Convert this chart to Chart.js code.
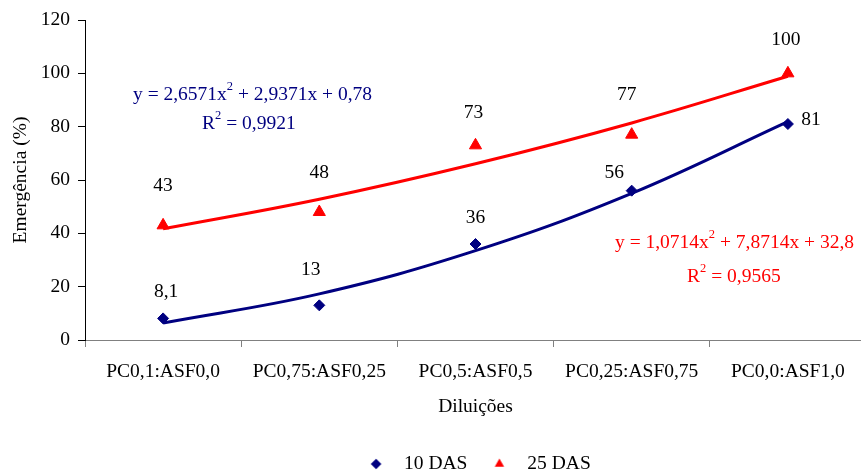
<!DOCTYPE html>
<html>
<head>
<meta charset="utf-8">
<script src="https://cdn.jsdelivr.net/npm/chart.js@4/dist/chart.umd.min.js"></script>
<style>
html,body{margin:0;padding:0;overflow:hidden;background:#fff;width:861px;height:472px}
#wrap{width:874px;height:490px}
</style>
</head>
<body>
<div id="wrap"><canvas id="c" width="874" height="490"></canvas></div>
<script>
// ---- data ----
const categories = ['PC0,1:ASF0,0', 'PC0,75:ASF0,25', 'PC0,5:ASF0,5', 'PC0,25:ASF0,75', 'PC0,0:ASF1,0'];
const seriesNames = ['10 DAS', '25 DAS'];
const das10 = [8.1, 13, 36, 56, 81];
const das25 = [43, 48, 73, 77, 100];
// polynomial trend lines at each category
const trend10 = [6.4, 17.3, 33.5, 55.0, 81.9];
const trend25 = [41.7, 52.8, 66.1, 81.4, 98.9];
const yMin = 0, yMax = 120, yStep = 20;
const xTitle = 'Diluições';
const yTitle = 'Emergência (%)';
const eq10 = [['y = 2,6571x'], ['2', true], [' + 2,9371x + 0,78']];
const r10 = [['R'], ['2', true], [' = 0,9921']];
const eq25 = [['y = 1,0714x'], ['2', true], [' + 7,8714x + 32,8']];
const r25 = [['R'], ['2', true], [' = 0,9565']];

// ---- styles ----
const BLUE = '#000080', RED = '#FF0000';
const FONT = '"Liberation Serif", "Times New Roman", serif';
const FS = 19.5;
const font = {family: FONT, size: FS};
const labelOffsets10 = [[3, -27], [-8.5, -35], [0, -26], [-17.5, -18], [23, -4]];
const labelOffsets25 = [[0, -39], [0, -39], [-2, -32], [-5, -40], [-2, -33]];
const eqPos = [
  {parts: eq10, x: 133, y: 95, color: BLUE},
  {parts: r10, x: 202, y: 124, color: BLUE},
  {parts: eq25, x: 615, y: 243, color: RED},
  {parts: r25, x: 687, y: 277, color: RED}
];

function fmt(v) { return String(v).replace('.', ','); }

function makeMarker(kind, color) {
  const c = document.createElement('canvas');
  c.width = 24; c.height = 24;
  const g = c.getContext('2d');
  const cx = 12 - 1.2, cy = 12;
  g.fillStyle = color;
  g.beginPath();
  if (kind === 'diamond') {
    const r = 5.3;
    g.moveTo(cx, cy - r); g.lineTo(cx + r, cy); g.lineTo(cx, cy + r); g.lineTo(cx - r, cy);
  } else {
    const r = 5.4;
    g.moveTo(cx, cy - r); g.lineTo(cx + r * 0.866, cy + r / 2); g.lineTo(cx - r * 0.866, cy + r / 2);
  }
  g.closePath(); g.fill();
  return c;
}
const legendMarkers = [makeMarker('diamond', BLUE), makeMarker('triangle', RED)];

const labelPlugin = {
  id: 'labelsAndEquations',
  afterDatasetsDraw(chart) {
    const ctx = chart.ctx;
    ctx.save();
    ctx.font = FS + 'px ' + FONT;
    ctx.fillStyle = '#000';
    ctx.textAlign = 'center';
    ctx.textBaseline = 'middle';
    [[0, das10, labelOffsets10], [1, das25, labelOffsets25]].forEach(([di, vals, offs]) => {
      const meta = chart.getDatasetMeta(di);
      const ys = chart.scales.y;
      meta.data.forEach((pt, i) => {
        const y = ys.getPixelForValue(vals[i]);
        ctx.fillText(fmt(vals[i]), pt.x + offs[i][0], y + offs[i][1]);
      });
    });
    ctx.textAlign = 'left';
    eqPos.forEach(e => {
      let x = e.x;
      ctx.fillStyle = e.color;
      e.parts.forEach(([t, sup]) => {
        if (sup) {
          ctx.font = '12.5px ' + FONT;
          ctx.fillText(t, x, e.y - 8);
        } else {
          ctx.font = FS + 'px ' + FONT;
          ctx.fillText(t, x, e.y);
        }
        x += ctx.measureText(t).width;
      });
    });
    ctx.restore();
  }
};

new Chart(document.getElementById('c'), {
  type: 'line',
  data: {
    labels: categories,
    datasets: [
      {label: seriesNames[0], data: das10, showLine: false, pointStyle: 'rectRot', pointRadius: 5.5, pointHoverRadius: 5.5,
       backgroundColor: BLUE, borderColor: BLUE, pointBorderWidth: 1},
      {label: seriesNames[1], data: das25, showLine: false, pointStyle: 'triangle', pointRadius: 7, pointHoverRadius: 7,
       backgroundColor: RED, borderColor: RED, pointBorderWidth: 1},
      {label: 'trend10', data: trend10, borderColor: BLUE, borderWidth: 3, pointRadius: 0, tension: 0.4, fill: false},
      {label: 'trend25', data: trend25, borderColor: RED, borderWidth: 3, pointRadius: 0, tension: 0.4, fill: false}
    ]
  },
  options: {
    responsive: false,
    animation: false,
    devicePixelRatio: 1,
    layout: {padding: {left: 0, right: 3, top: 20, bottom: 6.3}},
    plugins: {
      tooltip: {enabled: false},
      legend: {
        position: 'bottom',
        fullSize: false,
        labels: {
          usePointStyle: true,
          pointStyleWidth: 34,
          padding: 16.2,
          font: font,
          color: '#000',
          filter: item => item.datasetIndex < 2,
          generateLabels(chart) {
            const items = Chart.defaults.plugins.legend.labels.generateLabels(chart);
            items.forEach(it => { if (it.datasetIndex < 2) it.pointStyle = legendMarkers[it.datasetIndex]; });
            return items;
          }
        }
      }
    },
    scales: {
      x: {
        type: 'category',
        offset: true,
        grid: {offset: true, drawOnChartArea: false, drawTicks: true, tickLength: 7, color: '#808080', lineWidth: 1},
        border: {color: '#808080', width: 1},
        ticks: {font: font, color: '#000', padding: 13, maxRotation: 0, autoSkip: false},
        title: {display: true, text: xTitle, font: font, color: '#000', padding: {top: 0, bottom: 19.3}},
        afterFit(s) { s.height = 98; }
      },
      y: {
        min: yMin, max: yMax,
        ticks: {stepSize: yStep, font: font, color: '#000', padding: 8},
        grid: {drawOnChartArea: false, drawTicks: true, tickLength: 7, color: '#000'},
        border: {color: '#000', width: 1},
        title: {display: true, text: yTitle, font: font, color: '#000', padding: {top: 9, bottom: 0}},
        afterFit(s) { s.width = 85; }
      }
    }
  },
  plugins: [labelPlugin]
});
</script>
</body>
</html>
